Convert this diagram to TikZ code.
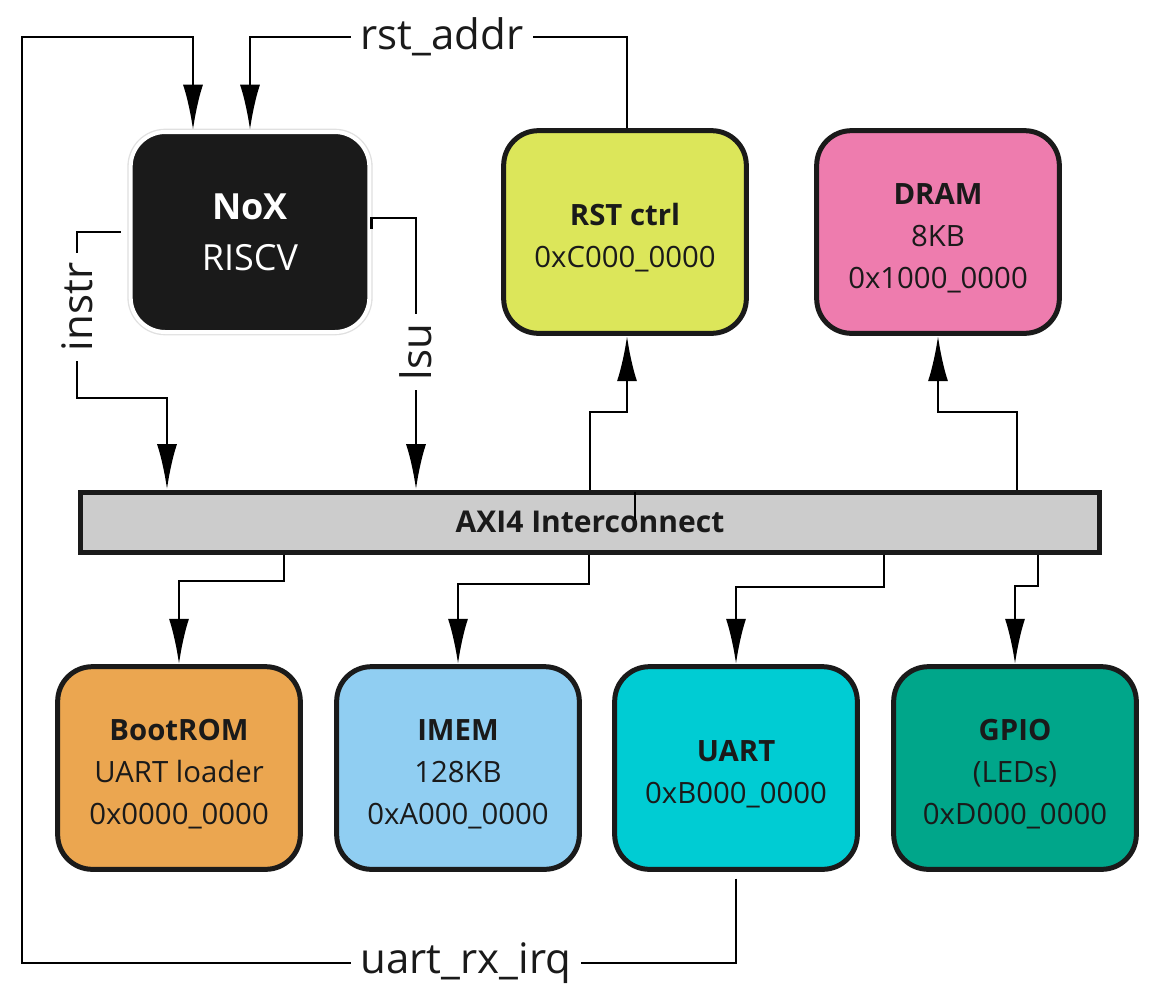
\documentclass[tikz,border=0pt]{standalone}
\usepackage{fontspec}
\setmainfont{Open Sans}
\usetikzlibrary{arrows.meta}
\definecolor{ink}{HTML}{1A1A1A}
\definecolor{cRST}{HTML}{DCE65A}
\definecolor{cDRAM}{HTML}{EE7CAE}
\definecolor{cBOOT}{HTML}{EBA650}
\definecolor{cIMEM}{HTML}{90CEF2}
\definecolor{cUART}{HTML}{00CCD3}
\definecolor{cGPIO}{HTML}{00A68A}
\definecolor{cBAR}{HTML}{CCCCCC}
\newcommand\liftline{\rule{0pt}{24.5pt}}
\begin{document}
\begin{tikzpicture}[x=0.75pt,y=-0.75pt,
  box/.style={rectangle, rounded corners=26pt, draw=ink, line width=3.75pt,
    minimum width=182pt, minimum height=152pt, align=center, text=ink,
    font=\fontsize{22}{31.5}\selectfont},
  conn/.style={draw=black, line width=2.2pt},
  arr/.style={conn, -{Latex[length=34pt,width=15pt]}},
  lbl/.style={fill=white, inner xsep=7pt, inner ysep=1pt, text=ink,
    font=\fontsize{31.5}{31.5}\selectfont}]
\fill[white] (0,0) rectangle (1171,1004);
\useasboundingbox (0,0) rectangle (1171,1004);

% nodes
\node[rectangle, rounded corners=26pt, fill=ink, draw=white, line width=3pt,
  preaction={draw=black!12, line width=5pt},
  minimum width=179pt, minimum height=150pt, align=center, text=white,
  font=\fontsize{27}{38}\selectfont] (nox) at (250,232) {\textbf{NoX}\\RISCV};
\node[box, fill=cRST] (rst) at (625,232) {\liftline\textbf{RST ctrl}\\0xC000\_0000};
\node[box, fill=cDRAM] (dram) at (938,232) {\liftline\textbf{DRAM}\\8KB\\0x1000\_0000};
\node[rectangle, draw=ink, fill=cBAR, line width=3.75pt, minimum width=764pt,
  minimum height=45pt, text=ink, font=\fontsize{22.5}{26}\selectfont\bfseries]
  (bar) at (590,522) {AXI4 Interconnect};
\node[box, fill=cBOOT] (boot) at (179,768) {\liftline\textbf{BootROM}\\UART loader\\0x0000\_0000};
\node[box, fill=cIMEM] (imem) at (458,768) {\liftline\textbf{IMEM}\\128KB\\0xA000\_0000};
\node[box, fill=cUART] (uart) at (736,768) {\liftline\textbf{UART}\\0xB000\_0000};
\node[box, fill=cGPIO] (gpio) at (1015,768) {\liftline\textbf{GPIO}\\(LEDs)\\0xD000\_0000};

% helper coordinates
\coordinate (lowy) at (0,963);
\coordinate (topy) at (0,37);
\coordinate (leftx) at (22,0);
\coordinate (xa) at (193,0);
\coordinate (xb) at (250,0);
\coordinate (rstx) at (627,0);
\coordinate (iy) at (0,232);
\coordinate (ix) at (77,0);
\coordinate (iy2) at (0,398);
\coordinate (ix2) at (167,0);
\coordinate (ly) at (0,218);
\coordinate (lhook) at (0,229);
\coordinate (lx) at (416,0);
\coordinate (ry) at (0,412);
\coordinate (rx) at (590,0);
\coordinate (dx) at (1017,0);
\coordinate (b1x) at (284,0);
\coordinate (b1y) at (0,581);
\coordinate (b2x) at (589,0);
\coordinate (b2y) at (0,584);
\coordinate (b3x) at (884,0);
\coordinate (b3y) at (0,587);
\coordinate (b4x) at (1038,0);
\coordinate (b4y) at (0,586);
\coordinate (tick) at (635,0);
\coordinate (ticky) at (0,520);

% connectors
\draw[arr] ([yshift=-5pt]uart.south) -- (uart.south |- lowy) -- (lowy -| leftx)
  -- (leftx |- topy) -- (topy -| xa) -- (xa |- nox.north);
\draw[arr] (rst.north -| rstx) -- (rstx |- topy) -- (topy -| xb) -- (xb |- nox.north);
\draw[arr, shorten <=6pt] (nox.west |- iy) -- (iy -| ix) -- (ix |- iy2) -- (iy2 -| ix2) -- (ix2 |- bar.north);
\draw[arr] (nox.east |- lhook) -- (nox.east |- ly) -- (ly -| lx) -- (lx |- bar.north);
\draw[arr] (bar.north -| rx) -- (rx |- ry) -- (ry -| rstx) -- (rstx |- rst.south);
\draw[arr] (bar.north -| dx) -- (dx |- ry) -- (ry -| dram) -- (dram.south);
\draw[arr] (bar.south -| b1x) -- (b1x |- b1y) -- (b1y -| boot) -- (boot.north);
\draw[arr] (bar.south -| b2x) -- (b2x |- b2y) -- (b2y -| imem) -- (imem.north);
\draw[arr] (bar.south -| b3x) -- (b3x |- b3y) -- (b3y -| uart) -- (uart.north);
\draw[arr] (bar.south -| b4x) -- (b4x |- b4y) -- (b4y -| gpio) -- (gpio.north);
\draw[black, line width=1pt] ([yshift=-1.9pt]bar.north -| tick) -- (tick |- ticky);

% labels
\node[lbl] (lrst) at (442,37) {rst\_addr};
\node[lbl] (lirq) at (466,963) {uart\_rx\_irq};
\node[lbl, rotate=90] (linstr) at (77,307) {instr};
\node[lbl, rotate=90] (llsu) at (416,352) {lsu};
\end{tikzpicture}
\end{document}
